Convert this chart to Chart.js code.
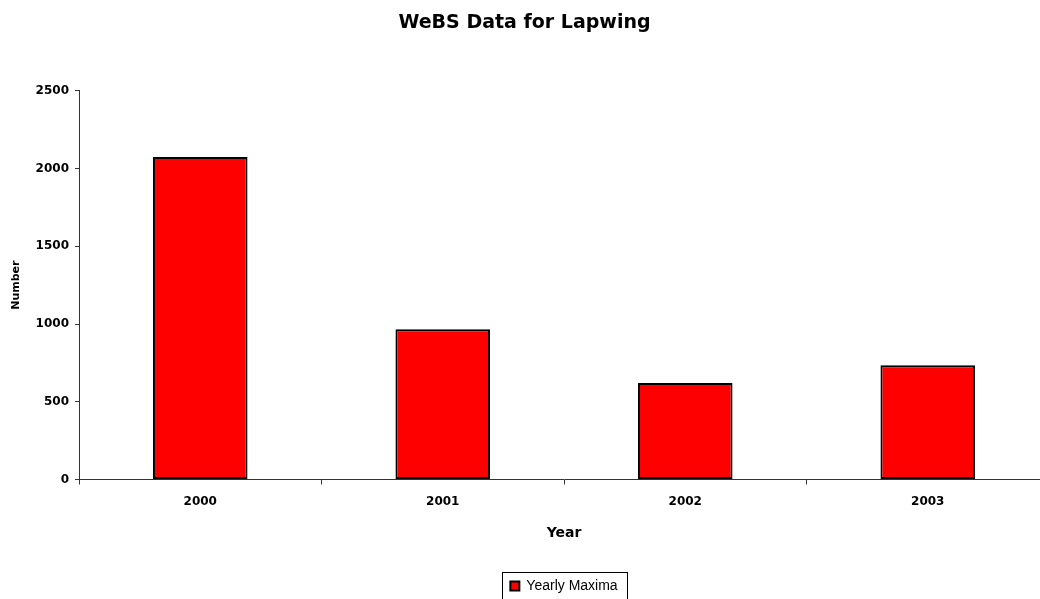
<!DOCTYPE html>
<html>
<head>
<meta charset="utf-8">
<title>WeBS Data for Lapwing</title>
<script src="https://cdn.jsdelivr.net/npm/chart.js@4/dist/chart.umd.min.js"></script>
<style>
    html, body { margin: 0; padding: 0; background: #fff; overflow: hidden; }
    #wrap { width: 1050px; height: 599px; overflow: hidden; }
    #lapwing-chart { display: block; }
</style>
</head>
<body>
<div id="wrap">
    <canvas id="lapwing-chart" width="1050" height="599"></canvas>
</div>
<script>
// Yearly maxima counts for Lapwing
const years = ['2000', '2001', '2002', '2003'];
const yearlyMaxima = [2075, 967, 621, 735];
const yTicks = [0, 500, 1000, 1500, 2000, 2500];

const boldFont = 'DejaVu Sans';
const axisColor = '#333333';

// Draw a thin border around the legend items
const legendBorder = {
    id: 'legendBorder',
    afterDraw(chart) {
        const legend = chart.legend;
        if (!legend || !legend.legendHitBoxes.length) return;
        const boxes = legend.legendHitBoxes;
        const left = Math.min(...boxes.map(b => b.left)) - 8;
        const right = Math.max(...boxes.map(b => b.left + b.width)) + 10;
        const top = Math.min(...boxes.map(b => b.top)) - 7;
        const ctx = chart.ctx;
        ctx.save();
        ctx.strokeStyle = '#000';
        ctx.lineWidth = 1;
        ctx.strokeRect(Math.round(left) + 0.5, Math.round(top) + 0.5,
            Math.round(right - left), 60);
        ctx.restore();
    }
};

const ctx = document.getElementById('lapwing-chart');

const chart = new Chart(ctx, {
    type: 'bar',
    data: {
        labels: years,
        datasets: [{
            label: 'Yearly Maxima',
            data: yearlyMaxima,
            backgroundColor: '#ff0000',
            borderColor: '#000000',
            borderWidth: 2,
            borderSkipped: false,
            categoryPercentage: 1,
            barPercentage: 0.39
        }]
    },
    options: {
        responsive: false,
        animation: false,
        layout: {
            // legend frame runs off the bottom edge
            padding: { left: 0, right: 1, top: 0, bottom: -4 }
        },
        plugins: {
            title: {
                display: true,
                text: 'WeBS Data for Lapwing',
                color: '#000',
                font: { family: boldFont, size: 19, weight: 'bold' },
                padding: { top: 12, bottom: 56 }
            },
            legend: {
                display: true,
                position: 'bottom',
                fullSize: false,
                labels: {
                    color: '#000',
                    font: { family: 'Liberation Sans', size: 14 },
                    boxWidth: 9,
                    boxHeight: 9,
                    padding: 1.5
                }
            },
            tooltip: { enabled: false }
        },
        scales: {
            x: {
                grid: {
                    offset: true,
                    drawOnChartArea: false,
                    drawTicks: true,
                    tickLength: 5,
                    color: axisColor
                },
                border: { color: axisColor, width: 1 },
                ticks: {
                    color: '#000',
                    font: { family: boldFont, size: 12, weight: 'bold' },
                    padding: 10
                },
                title: {
                    display: true,
                    text: 'Year',
                    color: '#000',
                    font: { family: boldFont, size: 14, weight: 'bold' },
                    padding: { top: 4, bottom: 36 }
                },
                afterFit(scale) {
                    scale.height = 98;
                }
            },
            y: {
                min: 0,
                max: 2500,
                afterBuildTicks(scale) {
                    scale.ticks = yTicks.map(v => ({ value: v }));
                },
                grid: {
                    drawOnChartArea: false,
                    drawTicks: true,
                    tickLength: 4,
                    color: axisColor
                },
                border: { color: axisColor, width: 1 },
                ticks: {
                    color: '#000',
                    font: { family: boldFont, size: 12, weight: 'bold' },
                    padding: 6,
                    callback: value => String(value)
                },
                title: {
                    display: true,
                    text: 'Number',
                    color: '#000',
                    font: { family: boldFont, size: 11, weight: 'bold' },
                    padding: { top: 10, bottom: 0 }
                },
                afterFit(scale) {
                    scale.width = 79;
                }
            }
        }
    },
    plugins: [legendBorder]
});
</script>
</body>
</html>
